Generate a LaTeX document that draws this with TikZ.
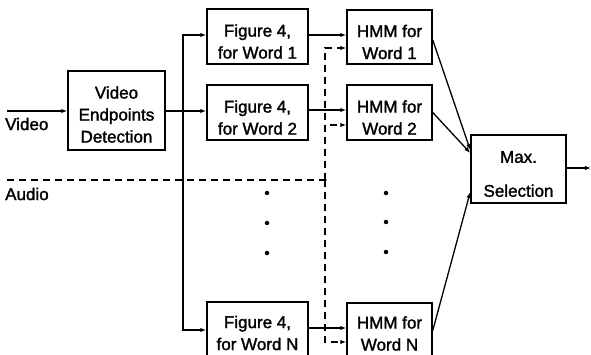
\documentclass[tikz,border=0pt]{standalone}
\usepackage{fontspec}
\setmainfont{Liberation Sans}[FakeBold=1.6]
\usetikzlibrary{arrows.meta,calc}
\begin{document}
\begin{tikzpicture}[x=1pt,y=-1pt,
  box/.style={draw,line width=1.5pt,rectangle,inner sep=0pt},
  txt/.style={inner sep=0pt,align=center,font=\fontsize{17}{22}\selectfont},
  arr/.style={line width=1.3pt,-{Latex[length=6pt,width=4.5pt]}},
  wire/.style={line width=1.3pt},
  dsh/.style={dash pattern=on 7pt off 5pt},
  lbl/.style={inner sep=0pt,anchor=west,font=\fontsize{17}{22}\selectfont},
  dot/.style={fill,circle,inner sep=0pt,minimum size=4.5pt}]
\useasboundingbox (0,0) rectangle (591,355);

% processing blocks
\node[box,minimum width=97pt,minimum height=79pt] (vep) at (116.5,110.5) {};
\node[box,minimum width=101pt,minimum height=55pt] (f1) at (257.5,36.5) {};
\node[box,minimum width=101pt,minimum height=55pt] (f2) at (257.5,112.5) {};
\node[box,minimum width=101pt,minimum height=60pt] (fn) at (257.5,332) {};
\node[box,minimum width=85pt,minimum height=54pt] (h1) at (389.5,37) {};
\node[box,minimum width=85pt,minimum height=55pt] (h2) at (389.5,112.5) {};
\node[box,minimum width=85pt,minimum height=59pt] (hn) at (389.5,332.5) {};
\node[box,minimum width=95pt,minimum height=68pt] (mx) at (518.5,169) {};

% block captions
\node[txt] (vept) at ([yshift=-4pt]vep.center) {Video\\Endpoints\\Detection};
\node[txt] (f1t) at ([yshift=-5pt]f1.center) {Figure 4,\\for Word 1};
\node[txt] (f2t) at ([yshift=-5pt]f2.center) {Figure 4,\\for Word 2};
\node[txt] (fnt) at ([yshift=-1pt]fn.center) {Figure 4,\\for Word N};
\node[txt] (h1t) at ([yshift=-5pt]h1.center) {HMM for\\Word 1};
\node[txt] (h2t) at ([yshift=-5pt]h2.center) {HMM for\\Word 2};
\node[txt] (hnt) at ([yshift=-1pt]hn.center) {HMM for\\Word N};
\node[txt,font=\fontsize{17}{34}\selectfont] (mxt) at ([yshift=-5pt]mx.center) {Max.\\Selection};

% input labels
\node[lbl] (vlab) at (5,124) {Video};
\node[lbl] (alab) at (5,194) {Audio};

% junctions and free ends
\coordinate (vin) at (7,111);
\coordinate (split) at (183,111);
\coordinate (ain) at (7,180);
\coordinate (asplit) at (325,180);
\coordinate (out) at (591,168);

% video path
\draw[arr] (vin) -- (vin -| vep.west);
\draw[wire] (vin -| vep.east) -- (split);
\node[dot,minimum size=3.5pt] (sd) at (split) {};
\draw[arr] (split) |- ([yshift=1.5pt]f1.west);
\draw[arr] (split) -- (split -| f2.west);
\draw[arr] (split) |- ([yshift=2pt]fn.west);
\draw[arr] ([yshift=1.5pt]f1.east) -- ([yshift=1.5pt]f1.east -| h1.west);
\draw[arr] ([yshift=2.5pt]f2.east) -- ([yshift=2.5pt]f2.east -| h2.west);
\draw[arr] ([yshift=4pt]fn.east) -- ([yshift=4pt]fn.east -| hn.west);

% audio path
\draw[wire,dsh] (ain) -- (asplit);
\node[dot,minimum size=3.5pt] (ad) at (asplit) {};
\draw[arr,dsh] (asplit) |- ([yshift=-11pt]h1.west);
\draw[arr,dsh] (asplit) |- ([yshift=-12.5pt]h2.west);
\draw[arr,dsh] (asplit) |- ([yshift=-9.5pt]hn.west);

% scores to the selector
\draw[arr] ([yshift=-3pt]h1.east) -- ([yshift=19pt]mx.west);
\draw[arr] (h2.east) -- ([yshift=16pt]mx.west);
\draw[arr] ([yshift=2pt]hn.east) -- ([yshift=-23pt]mx.west);
\draw[arr] ([yshift=1pt]mx.east) -- (out);

% ellipsis dots
\node[dot] (e1) at (267,193) {};
\node[dot] (e2) at (267,223) {};
\node[dot] (e3) at (267,253) {};
\node[dot] (e4) at (386,193) {};
\node[dot] (e5) at (386,222) {};
\node[dot] (e6) at (386,252) {};
\end{tikzpicture}
\end{document}
